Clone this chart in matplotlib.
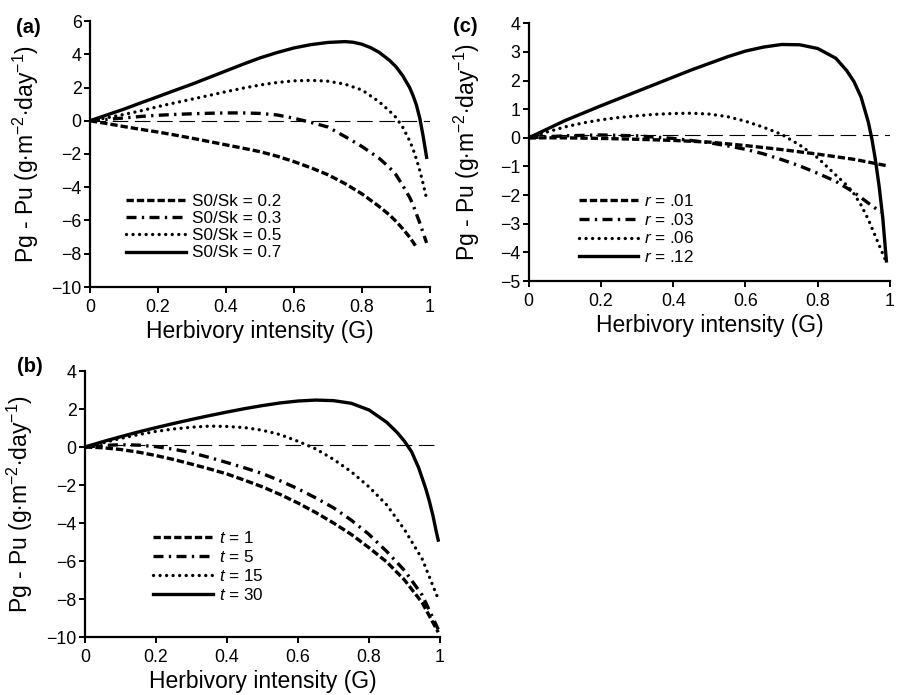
import matplotlib
matplotlib.use("Agg")
import matplotlib.pyplot as plt

plt.rcParams['font.family'] = ['Liberation Sans', 'DejaVu Sans']
plt.rcParams['mathtext.fontset'] = 'custom'
plt.rcParams['mathtext.rm'] = 'Liberation Sans'
plt.rcParams['mathtext.it'] = 'Liberation Sans:italic'

# ---- panel (a): S0/Sk ----
a_labels = ['S0/Sk = 0.2', 'S0/Sk = 0.3', 'S0/Sk = 0.5', 'S0/Sk = 0.7']
a_G = [0, 0.05, 0.1, 0.15, 0.2, 0.25, 0.3, 0.35, 0.4, 0.45, 0.5, 0.55, 0.6,
       0.65, 0.7, 0.75, 0.8, 0.85, 0.88, 0.9, 0.92, 0.94, 0.95, 0.96, 0.97,
       0.98, 0.99]
a_02 = [0, -0.17, -0.35, -0.52, -0.68, -0.86, -1.05, -1.25, -1.45, -1.65,
        -1.86, -2.13, -2.46, -2.83, -3.25, -3.78, -4.4, -5.15, -5.65, -6.05,
        -6.5, -7.0, -7.3, -7.6]
a_03 = [0, 0.08, 0.17, 0.26, 0.33, 0.38, 0.42, 0.45, 0.47, 0.47, 0.44, 0.35,
        0.15, -0.1, -0.38, -0.95, -1.55, -2.25, -2.8, -3.25, -3.9, -4.6,
        -5.05, -5.6, -6.15, -6.75, -7.35]
a_05 = [0, 0.18, 0.38, 0.6, 0.85, 1.08, 1.3, 1.52, 1.75, 1.96, 2.15, 2.3,
        2.4, 2.43, 2.38, 2.2, 1.85, 1.15, 0.6, 0.2, -0.4, -1.2, -1.7, -2.3,
        -3.0, -3.8, -4.7]
a07_G = [0, 0.05, 0.1, 0.15, 0.2, 0.25, 0.3, 0.35, 0.4, 0.45, 0.5, 0.55, 0.6,
         0.65, 0.7, 0.75, 0.775, 0.8, 0.825, 0.85, 0.88, 0.9, 0.92, 0.94,
         0.95, 0.96, 0.97, 0.98, 0.99]
a_07 = [0, 0.35, 0.7, 1.08, 1.45, 1.83, 2.2, 2.6, 3.0, 3.4, 3.78, 4.1, 4.38,
        4.58, 4.71, 4.76, 4.72, 4.6, 4.4, 4.12, 3.65, 3.25, 2.7, 2.0, 1.52,
        0.95, 0.15, -0.95, -2.2]

# ---- panel (b): t ----
b_labels = ['$\\it{t}$ = 1', '$\\it{t}$ = 5', '$\\it{t}$ = 15', '$\\it{t}$ = 30']
b_G = [0, 0.05, 0.1, 0.15, 0.2, 0.25, 0.3, 0.35, 0.4, 0.45, 0.5, 0.55, 0.6,
       0.65, 0.7, 0.75, 0.8, 0.85, 0.9, 0.95, 0.995]
b_1 = [0, -0.04, -0.13, -0.27, -0.45, -0.66, -0.9, -1.15, -1.42, -1.75,
       -2.1, -2.5, -2.95, -3.45, -4.0, -4.6, -5.3, -6.05, -7.0, -8.2, -9.75]
b_5 = [0, 0.08, 0.12, 0.1, 0.02, -0.12, -0.3, -0.55, -0.82, -1.1, -1.4,
       -1.78, -2.2, -2.68, -3.2, -3.85, -4.6, -5.5, -6.5, -7.8, -9.6]
b_15 = [0, 0.22, 0.45, 0.65, 0.82, 0.95, 1.04, 1.1, 1.08, 1.02, 0.88, 0.65,
        0.3, -0.1, -0.65, -1.3, -2.1, -3.05, -4.35, -5.9, -8.0]
b30_G = [0, 0.05, 0.1, 0.15, 0.2, 0.25, 0.3, 0.35, 0.4, 0.45, 0.5, 0.55, 0.6,
         0.65, 0.7, 0.75, 0.8, 0.85, 0.88, 0.9, 0.92, 0.94, 0.96, 0.97, 0.98,
         0.99, 0.995]
b_30 = [0, 0.28, 0.54, 0.79, 1.02, 1.24, 1.45, 1.65, 1.84, 2.02, 2.18, 2.32,
        2.42, 2.47, 2.44, 2.3, 1.95, 1.3, 0.75, 0.3, -0.25, -1.1, -2.2, -2.85,
        -3.6, -4.5, -4.9]

# ---- panel (c): r ----
c_labels = ['$\\it{r}$ = .01', '$\\it{r}$ = .03', '$\\it{r}$ = .06', '$\\it{r}$ = .12']
c01_G = [0, 0.1, 0.2, 0.3, 0.4, 0.5, 0.6, 0.7, 0.8, 0.9, 0.99]
c_01 = [0, 0.0, -0.02, -0.05, -0.09, -0.15, -0.27, -0.41, -0.57, -0.75, -0.97]
c03_G = [0, 0.1, 0.2, 0.3, 0.4, 0.5, 0.55, 0.6, 0.65, 0.7, 0.75, 0.8, 0.85,
         0.9, 0.94, 0.975]
c_03 = [0, 0.07, 0.1, 0.07, -0.02, -0.17, -0.28, -0.4, -0.56, -0.76, -0.98,
        -1.24, -1.52, -1.9, -2.28, -2.6]
c_G = [0, 0.05, 0.1, 0.15, 0.2, 0.25, 0.3, 0.35, 0.4, 0.45, 0.5, 0.55, 0.6,
       0.65, 0.7, 0.75, 0.8, 0.85, 0.88, 0.9, 0.92, 0.94, 0.95, 0.96, 0.97,
       0.98, 0.99]
c_06 = [0, 0.2, 0.38, 0.52, 0.63, 0.71, 0.77, 0.82, 0.85, 0.86, 0.83, 0.74,
        0.58, 0.37, 0.12, -0.25, -0.7, -1.3, -1.65, -1.95, -2.35, -2.85,
        -3.15, -3.45, -3.75, -4.05, -4.35]
c_12 = [0, 0.3, 0.6, 0.86, 1.12, 1.37, 1.62, 1.87, 2.12, 2.37, 2.6, 2.83,
        3.03, 3.17, 3.26, 3.25, 3.12, 2.78, 2.35, 1.97, 1.42, 0.55, -0.05,
        -0.8, -1.7, -2.8, -4.3]

ref_G = [0, 1]
ref_a = [0, 0]
ref_b = [0.1, 0.1]
ref_c = [0.1, 0.1]

W, H = 902, 695
fig = plt.figure(figsize=(W / 100, H / 100), dpi=100)


def px_axes(l, t, r, b):
    return fig.add_axes([l / W, 1 - b / H, (r - l) / W, (b - t) / H])


LW = 2.4
styles = [
    dict(dashes=(2.2, 0.9)),
    dict(dashes=(3.0, 1.6, 0.7, 1.6)),
    dict(dashes=(0.01, 1.95), dash_capstyle='round'),
    dict(),
]


def draw(ax, series, labels, ref, ylim, yticks, leg_xy, leg_space):
    ax.plot(ref_G, ref, color='black', lw=0.8, dashes=(14, 6))
    handles = []
    for (g, v), lab, st in zip(series, labels, styles):
        h, = ax.plot(g[:len(v)], v, color='black', lw=LW, label=lab, **st)
        handles.append(h)
    ax.set_xlim(0, 1)
    ax.set_ylim(*ylim)
    ax.set_xticks([0, 0.2, 0.4, 0.6, 0.8, 1])
    ax.set_xticklabels(['0', '0.2', '0.4', '0.6', '0.8', '1'])
    ax.set_yticks(yticks)
    for s in ['top', 'right']:
        ax.spines[s].set_visible(False)
    for s in ['left', 'bottom']:
        ax.spines[s].set_linewidth(1.6)
    ax.tick_params(labelsize=12.8, width=1.4, length=4.5, direction='out')
    ax.tick_params(axis='y', pad=1.5)
    ax.tick_params(axis='x', pad=4)
    ax.set_xlabel('Herbivory intensity (G)', fontsize=16.5, labelpad=3)
    ax.set_ylabel('Pg - Pu (g$\\cdot$m$^{-2}$$\\cdot$day$^{-1}$)', fontsize=16.5)
    ax.legend(handles=handles, loc='center left', bbox_to_anchor=leg_xy,
              frameon=False, fontsize=12.3, handlelength=3.5,
              handletextpad=0.35, labelspacing=leg_space, borderpad=0,
              borderaxespad=0)
    return ax


ax_a = px_axes(90, 21, 430, 287)
draw(ax_a, [(a_G, a_02), (a_G, a_03), (a_G, a_05), (a07_G, a_07)], a_labels,
     ref_a, (-10, 6), range(-10, 7, 2), (0.106, 0.224), 0.12)
ax_a.yaxis.set_label_coords(-0.145, 0.5)

ax_b = px_axes(85, 371, 440, 637)
draw(ax_b, [(b_G, b_1), (b_G, b_5), (b_G, b_15), (b30_G, b_30)], b_labels,
     ref_b, (-10, 4), range(-10, 5, 2), (0.191, 0.266), 0.18)
ax_b.yaxis.set_label_coords(-0.14, 0.5)

ax_c = px_axes(528.7, 23.3, 890, 281)
draw(ax_c, [(c01_G, c_01), (c03_G, c_03), (c_G, c_06), (c_G, c_12)], c_labels,
     ref_c, (-5, 4), range(-5, 5), (0.138, 0.201), 0.15)
ax_c.yaxis.set_label_coords(-0.128, 0.5)

for lab, x, y in [('(a)', 28, 27.5), ('(b)', 29.5, 367), ('(c)', 465, 26)]:
    fig.text(x / W, 1 - y / H, lab, fontsize=14.5, fontweight='bold',
             ha='center', va='center')

fig.savefig('out.png', dpi=100)
